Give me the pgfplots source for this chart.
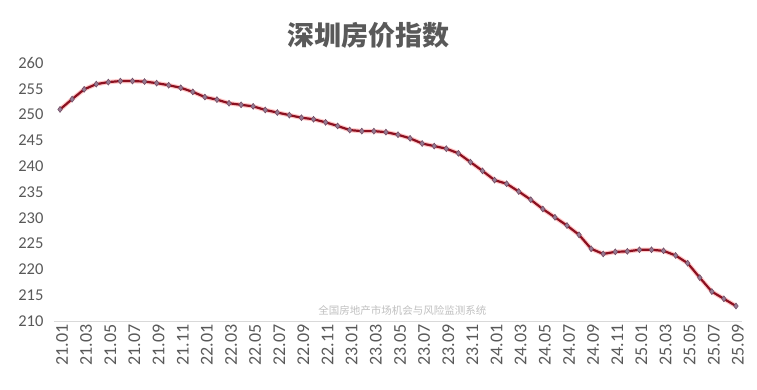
\documentclass[border=0pt]{standalone}
\usepackage{fontspec}
\setmainfont{Carlito}
\newfontfamily\cjk{Noto Sans CJK SC}
\usepackage{pgfplots}
\pgfplotsset{compat=1.18}
\usepackage{pgfplotstable}
\definecolor{txt}{HTML}{595959}
\definecolor{lred}{HTML}{8C1020}
\definecolor{mk}{HTML}{9A7A92}
\definecolor{mkb}{HTML}{6A4A62}
\pgfplotstableread{
i v
0 251.0
1 253.0
2 254.9
3 255.9
4 256.3
5 256.5
6 256.5
7 256.4
8 256.1
9 255.7
10 255.2
11 254.4
12 253.4
13 252.9
14 252.2
15 251.9
16 251.6
17 250.9
18 250.4
19 249.9
20 249.4
21 249.1
22 248.5
23 247.8
24 247.0
25 246.8
26 246.8
27 246.6
28 246.1
29 245.4
30 244.4
31 243.9
32 243.4
33 242.5
34 240.8
35 239.1
36 237.3
37 236.6
38 235.1
39 233.5
40 231.7
41 230.1
42 228.5
43 226.7
44 224.0
45 223.0
46 223.4
47 223.5
48 223.8
49 223.8
50 223.6
51 222.7
52 221.2
53 218.4
54 215.7
55 214.3
56 212.9
}\sz
\begin{document}
\begin{tikzpicture}[x=1pt,y=1pt]
\path[use as bounding box] (0,0) rectangle (757,389);
\node[text=txt,font=\cjk\bfseries\fontsize{27}{30}\selectfont] at (368,354) {深圳房价指数};
\begin{axis}[
  at={(54pt,68pt)}, anchor=south west,
  scale only axis, width=688pt, height=258pt,
  xmin=-0.5, xmax=56.5, ymin=210, ymax=260,
  axis x line=bottom, axis y line=left,
  x axis line style={draw=black!15, line width=1pt, -},
  y axis line style={draw=none, -},
  ytick={210,215,...,260},
  xtick={0,2,...,56},
  xticklabels={21.01,21.03,21.05,21.07,21.09,21.11,22.01,22.03,22.05,22.07,22.09,22.11,23.01,23.03,23.05,23.07,23.09,23.11,24.01,24.03,24.05,24.07,24.09,24.11,25.01,25.03,25.05,25.07,25.09},
  major tick length=0pt,
  x tick label style={rotate=90, anchor=east, font=\fontsize{18}{20}\selectfont, text=txt, yshift=-2pt},
  y tick label style={font=\fontsize{16.5}{18}\selectfont, text=txt},
  yticklabel style={xshift=-7pt},
  /pgf/number format/assume math mode=true,
  clip=false,
]
\addplot[draw=red!70, opacity=0.3, line width=4.5pt, no marks] table[x=i,y=v] {\sz};
\addplot[draw=lred, line width=2.2pt, mark=diamond*, mark size=3pt,
  mark options={fill=mk, draw=mkb, line width=0.5pt}] table[x=i,y=v] {\sz};
\node[anchor=west, text=black!25, font=\cjk\fontsize{10.5}{12}\selectfont] at (axis cs:21.1,212.1) {全国房地产市场机会与风险监测系统};
\end{axis}
\end{tikzpicture}
\end{document}
